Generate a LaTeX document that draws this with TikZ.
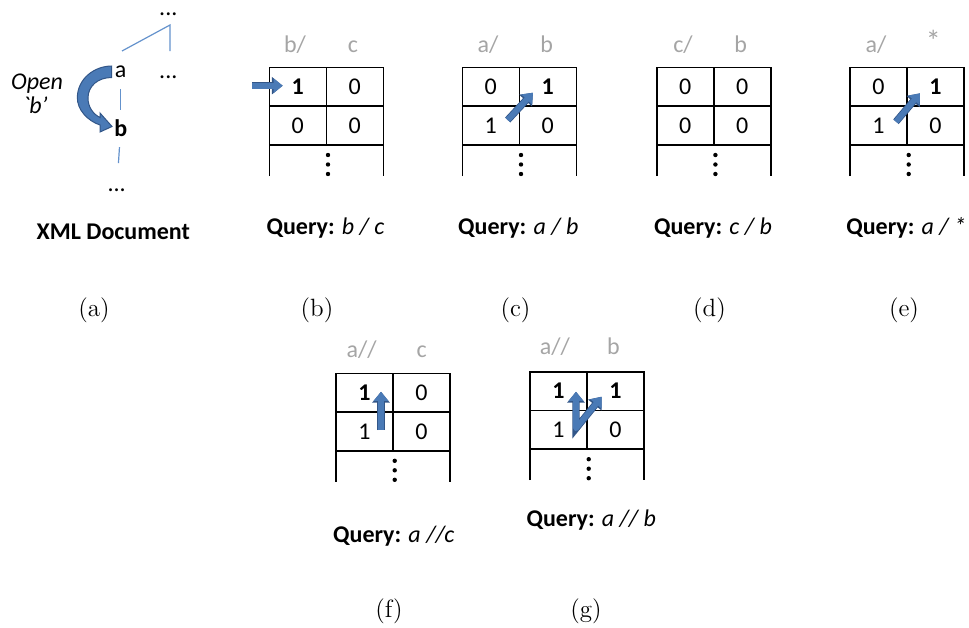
\documentclass[tikz,border=0pt]{standalone}
\usepackage{fontspec}
\newfontfamily\calibri{Carlito}
\usetikzlibrary{arrows.meta,calc}

\definecolor{arrowblue}{RGB}{74,122,182}
\definecolor{arrowedge}{RGB}{50,86,136}
\definecolor{treeblue}{RGB}{100,146,204}
\definecolor{headgray}{RGB}{165,165,165}

\tikzset{
  txt/.style={font=\calibri\fontsize{12}{14}\selectfont, inner sep=1pt},
  head/.style={txt, text=headgray, anchor=base},
  qtext/.style={font=\calibri\fontsize{12}{14}\selectfont, anchor=base, inner sep=0pt},
  subcap/.style={font=\fontsize{12.5}{15}\selectfont},
  tablerule/.style={line width=0.8pt},
  treeline/.style={draw=treeblue, line width=0.6pt},
  bhead/.tip={Triangle[length=4.6pt,width=7pt]},
  bedge/.tip={Triangle[length=5.4pt,width=8.4pt]},
  blockarrow/.style={draw=arrowblue, line width=2.8pt, -bhead,
    preaction={draw=arrowedge, line width=3.6pt, -bedge}},
  blockvee/.style={draw=arrowblue, line width=2.8pt, bhead-bhead,
    preaction={draw=arrowedge, line width=3.6pt, bedge-bedge}}
}

\begin{document}
\begin{tikzpicture}[x=0.5pt, y=-0.5pt]
  \useasboundingbox (0,0) rectangle (969,627);

  % (a) the document tree
  \node[txt, inner sep=0pt] (topdots) at (168.3,14) {...};
  \node[txt] (a) at (120.7,71.7) {a};
  \node[txt] (rdots) at (168.3,77) {...};
  \node[txt] (b) at (120.7,128.3) {\bfseries b};
  \node[txt] (bdots) at (116.7,190) {...};
  \coordinate (root) at (170,25);
  \coordinate (aup) at (122,51);
  \draw[treeline] (aup) -- (root) -- (root |- aup);
  \draw[treeline, shorten <=8.6pt, shorten >=9.1pt] (a.center) -- (b.center);
  \draw[treeline, shorten <=9.4pt, shorten >=13.5pt] (b.center) -- (bdots.center);

  % the curved "open" arrow from a down to b
  \filldraw[fill=arrowblue, draw=arrowedge, line width=0.5pt]
    (111.7,66) .. controls (95,66) and (78,78) .. (77.3,97)
    .. controls (77,110) and (88,121) .. (100,125)
    -- (100,132) -- (112,126.5) -- (100,113) -- (100,117.5)
    .. controls (93,114) and (88,107) .. (88,98)
    .. controls (88,86) and (98,77.5) .. (111.7,77.5) -- cycle;
  \node[qtext, font=\calibri\itshape\fontsize{12}{14}\selectfont] (open) at (37,89.5) {Open};
  \node[qtext, font=\calibri\itshape\fontsize{12}{14}\selectfont] (openb) at (35,113) {`b’};
  \node[qtext] (doc) at (113.3,239.3) {\bfseries XML Document};

  % the tables: two rows of cells and an open part below
  \foreach \n/\x/\y in {b/269.3/67.5, c/462.3/67.5, d/656.7/67.5, e/850/67.5,
                        f/336/373.3, g/530/371.7} {
    \draw[tablerule] (\x,\y+108.5) -- (\x,\y) -- (\x+114,\y) -- (\x+114,\y+108.5);
    \draw[tablerule] (\x,\y+38.7) -- ++(114,0) (\x,\y+77.4) -- ++(114,0)
                     (\x+57,\y) -- (\x+57,\y+77.4);
    \foreach \d in {87.5,97,106.5}
      \fill (\x+58.7,\y+\d) circle (2.2);
    \coordinate (\n-x) at (\x+57,\y+38.7);
  }

  % (b) b / c
  \node[head] (b-h1) at (295,52.7) {b/};
  \node[head] (b-h2) at (353,52.7) {c};
  \node[txt] (b-11) at (297.8,86.8) {\bfseries 1};
  \node[txt] (b-12) at (354.8,86.8) {0};
  \node[txt] (b-21) at (297.8,125.5) {0};
  \node[txt] (b-22) at (354.8,125.5) {0};
  \draw[blockarrow] ($(b-x)+(-74.3,-20.5)$) -- ($(b-x)+(-43.6,-20.5)$);
  \node[qtext] (b-q) at (325.5,234.3) {\textbf{Query:} \textit{b / c}};

  % (c) a / b
  \node[head] (c-h1) at (488,52) {a/};
  \node[head] (c-h2) at (546.7,52) {b};
  \node[txt] (c-11) at (490.8,86.8) {0};
  \node[txt] (c-12) at (547.8,86.8) {\bfseries 1};
  \node[txt] (c-21) at (490.8,125.5) {1};
  \node[txt] (c-22) at (547.8,125.5) {0};
  \draw[blockarrow] ($(c-x)+(-11.6,13.8)$) -- ($(c-x)+(13.7,-13.5)$);
  \node[qtext] (c-q) at (518.3,234.3) {\textbf{Query:} \textit{a / b}};

  % (d) c / b
  \node[head] (d-h1) at (683,52) {c/};
  \node[head] (d-h2) at (740.7,52) {b};
  \node[txt] (d-11) at (685.2,86.8) {0};
  \node[txt] (d-12) at (742.2,86.8) {0};
  \node[txt] (d-21) at (685.2,125.5) {0};
  \node[txt] (d-22) at (742.2,125.5) {0};
  \node[qtext] (d-q) at (713,234.3) {\textbf{Query:} \textit{c / b}};

  % (e) a / *
  \node[head] (e-h1) at (876,52) {a/};
  \node[head, font=\calibri\fontsize{15}{16}\selectfont] (e-h2) at (933.3,51) {*};
  \node[txt] (e-11) at (878.5,86.8) {0};
  \node[txt] (e-12) at (935.5,86.8) {\bfseries 1};
  \node[txt] (e-21) at (878.5,125.5) {1};
  \node[txt] (e-22) at (935.5,125.5) {0};
  \draw[blockarrow] ($(e-x)+(-11,15.5)$) -- ($(e-x)+(13,-12.9)$);
  \node[qtext] (e-q) at (906.2,234.3) {\textbf{Query:} \textit{a / *}};

  % (f) a //c
  \node[head] (f-h1) at (361.7,357.7) {a//};
  \node[head] (f-h2) at (421.7,357.7) {c};
  \node[txt] (f-11) at (364.5,392.6) {\bfseries 1};
  \node[txt] (f-12) at (421.5,392.6) {0};
  \node[txt] (f-21) at (364.5,431.3) {1};
  \node[txt] (f-22) at (421.5,431.3) {0};
  \draw[blockarrow] ($(f-x)+(-12,18)$) -- ($(f-x)+(-12,-20.3)$);
  \node[qtext] (f-q) at (393.8,542.7) {\textbf{Query:} \textit{a //c}};

  % (g) a // b
  \node[head] (g-h1) at (555,354) {a//};
  \node[head] (g-h2) at (613.3,354) {b};
  \node[txt] (g-11) at (558.5,391) {\bfseries 1};
  \node[txt] (g-12) at (615.5,391) {\bfseries 1};
  \node[txt] (g-21) at (558.5,429.7) {1};
  \node[txt] (g-22) at (615.5,429.7) {0};
  \draw[blockvee, line join=round] ($(g-x)+(-11,-18.7)$) -- ($(g-x)+(-11,18)$) -- ($(g-x)+(14.7,-13.7)$);
  \node[qtext] (g-q) at (591.3,526.7) {\textbf{Query:} \textit{a // b}};

  % the subfigure captions
  \node[subcap] (cap-a) at (94,310) {(a)};
  \node[subcap] (cap-b) at (317,310) {(b)};
  \node[subcap] (cap-c) at (515.5,310) {(c)};
  \node[subcap] (cap-d) at (709.5,310) {(d)};
  \node[subcap] (cap-e) at (904,310) {(e)};
  \node[subcap] (cap-f) at (389,611) {(f)};
  \node[subcap] (cap-g) at (586,611) {(g)};
\end{tikzpicture}
\end{document}
